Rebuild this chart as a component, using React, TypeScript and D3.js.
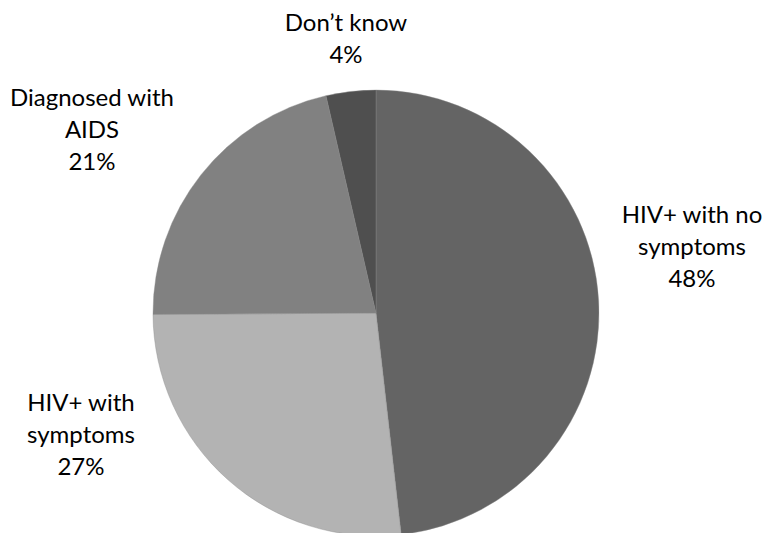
import React from "react";
import * as d3 from "d3";

const categories = ["HIV+ with no symptoms", "HIV+ with symptoms", "Diagnosed with AIDS", "Don\u2019t know"];
const values = [48.2, 26.7, 21.5, 3.6];
const valueLabels = ["48%", "27%", "21%", "4%"];
const labelLines = [["HIV+ with no", "symptoms"], ["HIV+ with", "symptoms"], ["Diagnosed with", "AIDS"], ["Don\u2019t know"]];
const colors = ["#646464", "#b3b3b3", "#818181", "#4f4f4f"];

const W = 767, H = 533;
const cx = 376, cy = 313, R = 223;
// label anchor: center x, first baseline y
const labelPos = [
  { x: 692, y: 223 },
  { x: 81, y: 411 },
  { x: 92, y: 106 },
  { x: 346, y: 31 },
];
const LH = 32;

export default function App() {
  const pie = d3.pie<number>().value((d) => d).sort(null);
  const arcs = pie(values);
  const arc = d3.arc<d3.PieArcDatum<number>>().innerRadius(0).outerRadius(R);
  return (
    <svg width={W} height={H} style={{ position: "absolute", left: 0, top: 0, background: "#fff" }}>
      <g transform={`translate(${cx},${cy})`}>
        {arcs.map((a, i) => (
          <path key={i} d={arc(a) || ""} fill={colors[i]} stroke="#8a8a8a" strokeWidth={0.4} />
        ))}
      </g>
      {categories.map((c, i) => {
        const lines = [...labelLines[i], valueLabels[i]];
        return (
          <text key={c} textAnchor="middle" fontFamily="Lato, 'Open Sans', sans-serif" fontSize={24} fill="#000">
            {lines.map((l, j) => (
              <tspan key={j} x={labelPos[i].x} y={labelPos[i].y + j * LH}>{l}</tspan>
            ))}
          </text>
        );
      })}
    </svg>
  );
}
